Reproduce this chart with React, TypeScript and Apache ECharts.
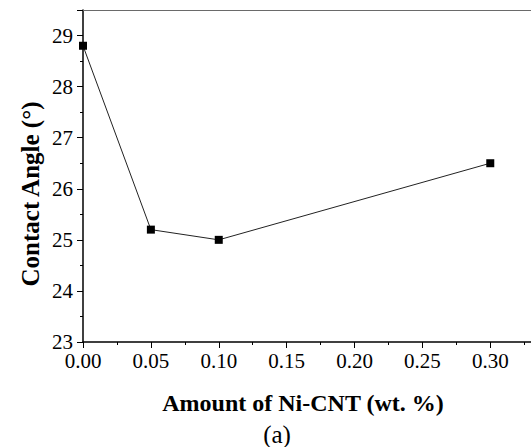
import React, { useEffect, useRef } from "react";
import * as echarts from "echarts";

const amounts = [0, 0.05, 0.1, 0.3];
const contactAngles = [28.8, 25.2, 25.0, 26.5];
const xTitle = "Amount of Ni-CNT (wt. %)";
const yTitle = "Contact Angle (°)";
const panelLabel = "(a)";

const FONT = "Liberation Serif";

export default function App() {
  const ref = useRef<HTMLDivElement>(null);
  useEffect(() => {
    if (!ref.current) return;
    const chart = echarts.init(ref.current, null, { renderer: "svg" });
    chart.setOption({
      animation: false,
      backgroundColor: "#fff",
      textStyle: { fontFamily: FONT },
      grid: { left: 83, right: 0, top: 10, bottom: 105, containLabel: false },
      xAxis: [
        {
          type: "value",
          min: 0,
          max: 0.33,
          interval: 0.05,
          axisLine: { show: true, onZero: false, lineStyle: { color: "#000", width: 1.5 } },
          axisTick: { show: true, inside: false, length: 6, lineStyle: { color: "#000", width: 1 } },
          minorTick: { show: true, splitNumber: 2, length: 3, lineStyle: { color: "#000", width: 1 } },
          splitLine: { show: false },
          axisLabel: {
            show: true,
            margin: 8,
            color: "#000",
            fontFamily: FONT,
            fontSize: 21,
            showMaxLabel: false,
            formatter: (v: number) => v.toFixed(2),
          },
        },
        {
          type: "value",
          position: "top",
          min: 0,
          max: 0.33,
          axisLine: { show: true, onZero: false, lineStyle: { color: "#6a6a6a", width: 1.2 } },
          axisTick: { show: false },
          axisLabel: { show: false },
          splitLine: { show: false },
        },
      ],
      yAxis: {
        type: "value",
        min: 23,
        max: 29.5,
        interval: 1,
        axisLine: { show: true, onZero: false, lineStyle: { color: "#000", width: 1.5 } },
        axisTick: { show: true, inside: false, length: 6, lineStyle: { color: "#000", width: 1 } },
        minorTick: { show: true, splitNumber: 2, length: 3, lineStyle: { color: "#000", width: 1 } },
        splitLine: { show: false },
        axisLabel: {
          show: true,
          margin: 10,
          color: "#000",
          fontFamily: FONT,
          fontSize: 21,
          showMaxLabel: false,
        },
      },
      series: [
        {
          type: "line",
          data: amounts.map((a, i) => [a, contactAngles[i]]),
          symbol: "rect",
          symbolSize: 8,
          itemStyle: { color: "#000" },
          lineStyle: { color: "#222", width: 1 },
          clip: false,
        },
      ],
      graphic: [
        {
          type: "text",
          x: 303,
          y: 403,
          style: {
            text: xTitle,
            fontFamily: FONT,
            fontSize: 24,
            fontWeight: "bold",
            fill: "#000",
            align: "center",
            verticalAlign: "middle",
          },
        },
        {
          type: "text",
          x: 30,
          y: 194,
          rotation: Math.PI / 2,
          style: {
            text: yTitle,
            fontFamily: FONT,
            fontSize: 25,
            fontWeight: "bold",
            fill: "#000",
            align: "center",
            verticalAlign: "middle",
          },
        },
        {
          type: "text",
          x: 277,
          y: 434,
          style: {
            text: panelLabel,
            fontFamily: FONT,
            fontSize: 25,
            fill: "#000",
            align: "center",
            verticalAlign: "middle",
          },
        },
      ],
    });
    return () => chart.dispose();
  }, []);
  return (
    <div
      ref={ref}
      style={{ position: "fixed", left: 0, top: 0, width: 531, height: 447 }}
    />
  );
}
